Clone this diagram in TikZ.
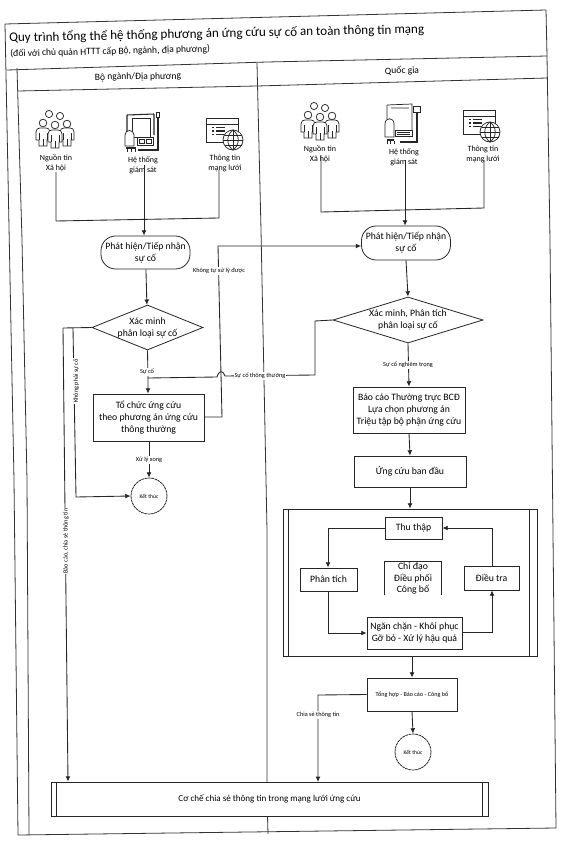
\documentclass[tikz,border=0pt]{standalone}
\usepackage{fontspec}
\setmainfont{Carlito}
\usetikzlibrary{arrows.meta,shapes.geometric}
\newcommand{\fsz}[2]{\fontsize{#1}{#2}\selectfont}
\tikzset{
 line/.style={draw=black!85,line width=0.65pt},
 conn/.style={line,-{Latex[length=4pt,width=3.6pt]}},
 plain/.style={line},
 frameline/.style={draw=black!80,line width=0.6pt},
 boxn/.style={draw=black!85,line width=0.6pt,fill=white,inner sep=0pt,align=center,font=\fsz{7.3}{8.8}},
 term/.style={boxn,rounded corners=11pt,font=\fsz{7.3}{9}},
 dia/.style={diamond,draw=black!85,line width=0.6pt,fill=white,inner sep=0pt,aspect=2.5},
 endn/.style={circle,draw=black!85,line width=0.6pt,dashed,dash pattern=on 2pt off .5pt,fill=white,inner sep=0pt,minimum size=27pt,font=\fsz{4.2}{5}},
 lab/.style={font=\fsz{4.7}{5.5},fill=white,inner sep=0.6pt},
 iconlab/.style={font=\fsz{6}{7.5},align=center,inner sep=0pt},
 icn/.style={draw=black!85,line width=0.55pt},
 pics/person/.style={code={
   \path[icn,fill=white] (-7,12) -- (-7,4) .. controls (-7,1) and (-5,0) .. (-3,0) -- (3,0) .. controls (5,0) and (7,1) .. (7,4) -- (7,12) -- (4,12) -- (4,18) -- (-4,18) -- (-4,12) -- cycle;
   \path[icn] (-4,5) -- (-4,12) (4,5) -- (4,12) (0,11) -- (0,18);
 }},
 pics/people/.style={code={
   \path[icn,fill=white] (13,4) circle (3.6) (24,6) circle (3.6);
   \path[icn,fill=white] (7,13) circle (3.8) (31,14) circle (3.8);
   \pic at (7,18) {person};
   \pic at (31,18) {person};
   \path[icn,fill=white] (19,15) circle (3.8);
   \pic at (19,20) {person};
 }},
 pics/moniA/.style={code={
   \path[icn,line width=0.8pt] (3,4) -- (3,24) (3,4) -- (30,3) (30,3) -- (30,24);
   \path[icn] (8,7) rectangle (26,26);
   \path[icn,fill=white] (32,1) rectangle (35,6);
   \path[icn,line width=0.9pt] (34,6) -- (34,39) -- (14,39);
   \path[icn,fill=white] (13,26) rectangle (29,34);
   \path[icn] (15,28) rectangle (20,32) (22,28) rectangle (27,32);
   \path[icn,fill=white] (1,24) .. controls (1,18) and (10,18) .. (10,24) -- (10,35) -- (1,35) -- cycle;
   \path[fill=black!85] (2,36) rectangle (12,38);
   \path[icn] (3,38) -- (3,41) (7,38) -- (7,41) (11,38) -- (11,41);
 }},
 pics/moniB/.style={code={
   \path[icn] (3,2) -- (28,1) -- (28,29) (7,5) -- (25,5) (3,2) -- (3,16);
   \path[icn,fill=white] (29,3) rectangle (36,9);
   \path[icn,line width=0.8pt] (33,9) -- (33,39) -- (16,39);
   \path[icn,fill=white] (11,27) rectangle (28,33);
   \path[icn] (13,29) -- (26,29) (13,31) -- (26,31);
   \path[icn,fill=white] (1,21) .. controls (1,14) and (10,14) .. (10,21) -- (10,34) -- (1,34) -- cycle;
   \path[fill=black!85] (3,36) rectangle (10,38);
   \path[icn] (3,38) -- (3,41) (6.5,38) -- (6.5,41) (10,38) -- (10,41);
 }},
 pics/webglobe/.style={code={
   \path[icn,line width=0.7pt,fill=white] (0,0) rectangle (32,24);
   \path[icn] (0,6) -- (32,6);
   \path[icn,line width=0.9pt] (6,9.5) -- (7.5,9.5) (10,9.5) -- (19,9.5) (6,13) -- (7.5,13) (10,13) -- (19,13) (6,16.5) -- (7.5,16.5) (10,16.5) -- (19,16.5);
   \path[icn,fill=white] (27,22) circle (10);
   \path[icn] (27,12) -- (27,32) (17,22) -- (37,22) (18.5,17) -- (35.5,17) (18.5,27) -- (35.5,27);
   \path[icn] (27,12) .. controls (20,17) and (20,27) .. (27,32) (27,12) .. controls (34,17) and (34,27) .. (27,32);
 }},
}
\begin{document}
\begin{tikzpicture}[x=0.75pt,y=-0.75pt]
\useasboundingbox[fill=white] (0,0) rectangle (577,849);
% frame
\draw[frameline] (5,24) -- (546,10) -- (547,56) -- (550,240) -- (556,828) -- (18,835) -- (14,480) -- cycle;
\draw[frameline] (7,70) -- (267,62) -- (547,56);
\draw[frameline] (18,91) -- (257,86) -- (547,78);
\draw[frameline] (17,68) -- (22,240) -- (27,480) -- (29,834);
\draw[frameline] (257,63) -- (261,230) -- (267,530) -- (267,782);
\draw[frameline] (267.5,816) -- (268,834);
\node[anchor=west,rotate=1.2,inner sep=0pt,font=\fsz{9.8}{12}] (title) at (9,38) {Quy trình tổng thể hệ thống phương án ứng cứu sự cố an toàn thông tin mạng};
\node[anchor=west,rotate=1.4,inner sep=0pt,font=\fsz{7.2}{8}] (subtitle) at (10,54) {(đối với chủ quản HTTT cấp Bộ, ngành, địa phương)};
\node[inner sep=0pt,font=\fsz{7.2}{8},rotate=0.8] (laneA) at (138,77) {Bộ ngành/Địa phương};
\node[inner sep=0pt,font=\fsz{7.2}{8},rotate=0.8] (laneB) at (402,71) {Quốc gia};
% icons
\pic at (36,110) {people};
\pic at (124,111) {moniA};
\pic at (206,118) {webglobe};
\pic at (301,102) {people};
\pic at (384,103) {moniB};
\pic at (463,110) {webglobe};
\node[iconlab] (a1) at (56,163) {Nguồn tin\\Xã hội};
\node[iconlab] (a2) at (143,165) {Hệ thống\\giám sát};
\node[iconlab] (a3) at (225,163) {Thông tin\\mạng lưới};
\node[iconlab] (b1) at (320,154) {Nguồn tin\\Xã hội};
\node[iconlab] (b2) at (404,157) {Hệ thống\\giám sát};
\node[iconlab] (b3) at (483,154) {Thông tin\\mạng lưới};
% left lane nodes
\node[term,minimum width=66.75pt,minimum height=24.75pt] (t1) at (145.5,252.5) {Phát hiện/Tiếp nhận\\sự cố};
\node[dia,minimum width=83.25pt,minimum height=33.75pt,label={[align=center,font=\fsz{7.3}{9}]center:Xác minh\\phân loại sự cố}] (d1) at (147.5,327.5) {};
\node[boxn,minimum width=83.25pt,minimum height=35.25pt] (r1) at (148.5,417.5) {Tổ chức ứng cứu\\theo phương án ứng cứu\\thông thường};
\node[endn] (e1) at (149,496) {Kết thúc};
% right lane nodes
\node[term,minimum width=66.75pt,minimum height=25.5pt] (t2) at (406,243) {Phát hiện/Tiếp nhận\\sự cố};
\node[dia,minimum width=112.5pt,minimum height=34.5pt,label={[align=center,font=\fsz{7.3}{9}]center:Xác minh, Phân tích\\phân loại sự cố}] (d2) at (408,320) {};
\node[boxn,minimum width=84pt,minimum height=34.5pt] (r2) at (409,410) {Báo cáo Thường trực BCĐ\\Lựa chọn phương án\\Triệu tập bộ phận ứng cứu};
\node[boxn,minimum width=84pt,minimum height=23.25pt] (r3) at (410,471.5) {Ứng cứu ban đầu};
\node[boxn,minimum width=190.5pt,minimum height=110.25pt] (big) at (410,582.5) {};
\draw[line] ([xshift=4.5pt]big.north west) -- ([xshift=4.5pt]big.south west);
\draw[line] ([xshift=-6pt]big.north east) -- ([xshift=-6pt]big.south east);
\node[boxn,minimum width=42.75pt,minimum height=16.5pt] (thu) at (413.5,528) {Thu thập};
\node[boxn,minimum width=42.75pt,minimum height=17.25pt] (phan) at (328.5,579.5) {Phân tích};
\node[boxn,minimum width=41.25pt,minimum height=18pt] (dieu) at (491.5,578) {Điều tra};
\node[boxn,minimum width=71.25pt,minimum height=24pt] (ngan) at (414.5,633) {Ngăn chặn - Khôi phục\\Gỡ bỏ - Xử lý hậu quả};
\node[inner sep=0pt,align=center,font=\fsz{7.3}{8.6},minimum width=42pt,minimum height=24.75pt] (chi) at (413,578.5) {Chỉ đạo\\Điều phối\\Công bố};
\draw[line] (chi.south west) -- (chi.north west) -- (chi.north east) -- (chi.south east);
\node[boxn,minimum width=67.5pt,minimum height=24.75pt,font=\fsz{4.6}{5.5}] (tong) at (412,694.5) {Tổng hợp - Báo cáo - Công bố};
\node[endn] (e2) at (413,752) {Kết thúc};
\node[boxn,minimum width=327.75pt,minimum height=25.5pt,font=\fsz{6.8}{8}] (bot) at (269.5,799) {Cơ chế chia sẻ thông tin trong mạng lưới ứng cứu};
\draw[line] ([xshift=4.5pt]bot.north west) -- ([xshift=4.5pt]bot.south west);
\draw[line] ([xshift=-4.5pt]bot.north east) -- ([xshift=-4.5pt]bot.south east);
% junction coordinates
\coordinate (a1b) at (56,172); \coordinate (a1c) at (56,221); \coordinate (a3c) at (219,218); \coordinate (a3b) at (219,170);
\coordinate (a2b) at (144,165);
\coordinate (b1b) at (321,155); \coordinate (b1c) at (321,212); \coordinate (b3c) at (484,208); \coordinate (b3b) at (484,160);
\coordinate (b2b) at (405,160);
\coordinate (j1) at (63,328); \coordinate (j2) at (73,328); \coordinate (j2b) at (76,497);
\coordinate (j1b) at (68,781.6);
\coordinate (s1) at (315,321); \coordinate (s2) at (315,375); \coordinate (s3) at (225,376); \coordinate (s4) at (217,377); \coordinate (s5) at (148,378);
\coordinate (k1) at (222,417); \coordinate (k2) at (218,246);
\coordinate (lw) at (328,528); \coordinate (lp) at (328,633);
\coordinate (lr) at (492,632); \coordinate (lt) at (492,528);
\coordinate (c1) at (318,695); \coordinate (c2) at (318,782);
% connectors
\draw[plain] (a1b) -- (a1c) -- (a3c) -- (a3b);
\draw[conn] (a2b) -- (t1.north -| a2b);
\draw[plain] (b1b) -- (b1c) -- (b3c) -- (b3b);
\draw[conn] (b2b) -- (t2.north -| b2b);
\draw[conn] (t1) -- (d1);
\draw[plain] (d1.west) -- (j1);
\draw[conn] (j1) -- (j1b);
\draw[conn] (j2) -- (j2b) -- (e1.west);
\draw[plain] (d1.south) -- (s5);
\draw[conn] (d2.west) -- (s1) -- (s2) -- (s3) .. controls (223,370) and (219,370) .. (s4) -- (s5) -- (r1.north -| s5);
\draw[conn] (r1.east |- k1) -- (k1) -- (k2) -- (t2.west |- k2);
\draw[conn] (r1.south -| e1) -- (e1.north);
\draw[conn] (t2.south) -- (d2.north);
\draw[conn] (d2.south) -- (r2.north);
\draw[conn] (r2.south) -- (r3.north);
\draw[conn] (r3.south) -- (big.north);
\draw[conn] (thu.west) -- (lw) -- (phan.north -| lw);
\draw[conn] (phan.south -| lp) -- (lp) -- (ngan.west);
\draw[conn] (ngan.east |- lr) -- (lr) -- (dieu.south -| lr);
\draw[conn] (dieu.north -| lt) -- (lt) -- (thu.east);
\draw[conn] (big.south -| tong) -- (tong.north);
\draw[conn] (tong.south) -- (e2.north);
\draw[conn] (tong.west) -- (c1) -- (c2);
% connector labels
\node[lab] (l1) at (147,372) {Sự cố};
\node[lab] (l2) at (149,460) {Xử lý xong};
\node[lab] (l3) at (260,376) {Sự cố thông thường};
\node[lab] (l4) at (219,271) {Không tự xử lý được};
\node[lab,rotate=90] (l5) at (76,381) {Không phải sự cố};
\node[lab,rotate=90] (l6) at (66,541) {Báo cáo, chia sẻ thông tin};
\node[lab] (l7) at (408,365) {Sự cố nghiêm trọng};
\node[lab] (l8) at (318,715) {Chia sẻ thông tin};
\end{tikzpicture}
\end{document}
